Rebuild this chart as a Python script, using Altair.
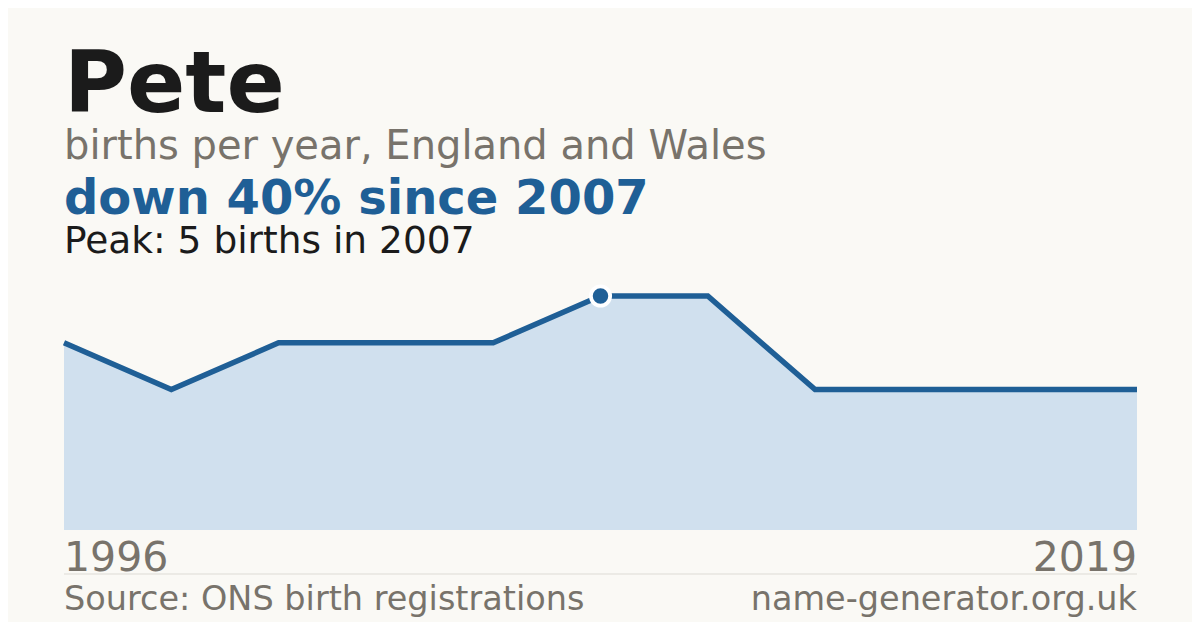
import altair as alt
import pandas as pd

# Data (points evenly spaced, labelled 1996 .. 2019)
years = [1996, 1998, 2000, 2002, 2004, 2007, 2009, 2011, 2013, 2016, 2019]
births = [4, 3, 4, 4, 4, 5, 5, 3, 3, 3, 3]
first_year, last_year = years[0], years[-1]

title_text = "Pete"
subtitle_text = "births per year, England and Wales"
change_text = "down 40% since 2007"
peak_text = "Peak: 5 births in 2007"
source_text = "Source: ONS birth registrations"
site_text = "name-generator.org.uk"

df = pd.DataFrame({"year": years, "births": births})

W, H = 1073, 234
FONT = "DejaVu Sans"
BLUE = "#1f5f96"
GREY = "#78736b"
DARK = "#1b1b1b"

base = alt.Chart(df)
x = alt.X("year:O", scale=alt.Scale(type="point", padding=0), axis=None)
y = alt.Y("births:Q", scale=alt.Scale(domain=[0, 5], nice=False, zero=True), axis=None)

area = base.mark_area(color="#d0e0ee").encode(x=x, y=y)
line = base.mark_line(color=BLUE, strokeWidth=5.5, strokeJoin="miter").encode(x=x, y=y)
peak = base.transform_joinaggregate(mx="max(births)").transform_filter(
    "datum.births == datum.mx"
).transform_window(rn="row_number()").transform_filter("datum.rn == 1").mark_point(
    filled=True, fill=BLUE, stroke="#ffffff", strokeWidth=3.8, size=372, opacity=1, shape="circle"
).encode(x=x, y=y)

def txt(s, yv, size, color, weight="normal", align="left", xv=0):
    return alt.Chart(pd.DataFrame({"t": [s]})).mark_text(
        font=FONT, fontSize=size, color=color, fontWeight=weight, align=align,
        baseline="alphabetic"
    ).encode(text="t:N", x=alt.value(xv), y=alt.value(yv))

first_lbl = base.transform_filter(f"datum.year == {first_year}").mark_text(
    font=FONT, fontSize=41, color=GREY, align="left", baseline="alphabetic"
).encode(x=x, y=alt.value(275), text="year:O")
last_lbl = base.transform_filter(f"datum.year == {last_year}").mark_text(
    font=FONT, fontSize=41, color=GREY, align="right", baseline="alphabetic"
).encode(x=x, y=alt.value(275), text="year:O")

sep = alt.Chart(pd.DataFrame({"a": [0]})).mark_rule(color="#dddbd5", strokeWidth=1).encode(
    x=alt.value(0), x2=alt.value(W), y=alt.value(278)
)

chart = alt.layer(
    area, line, peak, first_lbl, last_lbl, sep,
    txt(title_text, -184, 86, DARK, "bold"),
    txt(subtitle_text, -137, 40, GREY),
    txt(change_text, -82, 48, BLUE, "bold"),
    txt(peak_text, -43, 37.5, DARK),
    txt(source_text, 314, 33.5, GREY),
    txt(site_text, 314, 33.5, GREY, align="right", xv=W),
).properties(
    width=W, height=H,
    autosize=alt.AutoSizeParams(type="none"),
    padding={"left": 56, "top": 288, "right": 55, "bottom": 92},
    background="#faf9f5",
).configure_view(stroke=None)

chart.save("out.html", embed_options={"renderer": "svg", "actions": False})
